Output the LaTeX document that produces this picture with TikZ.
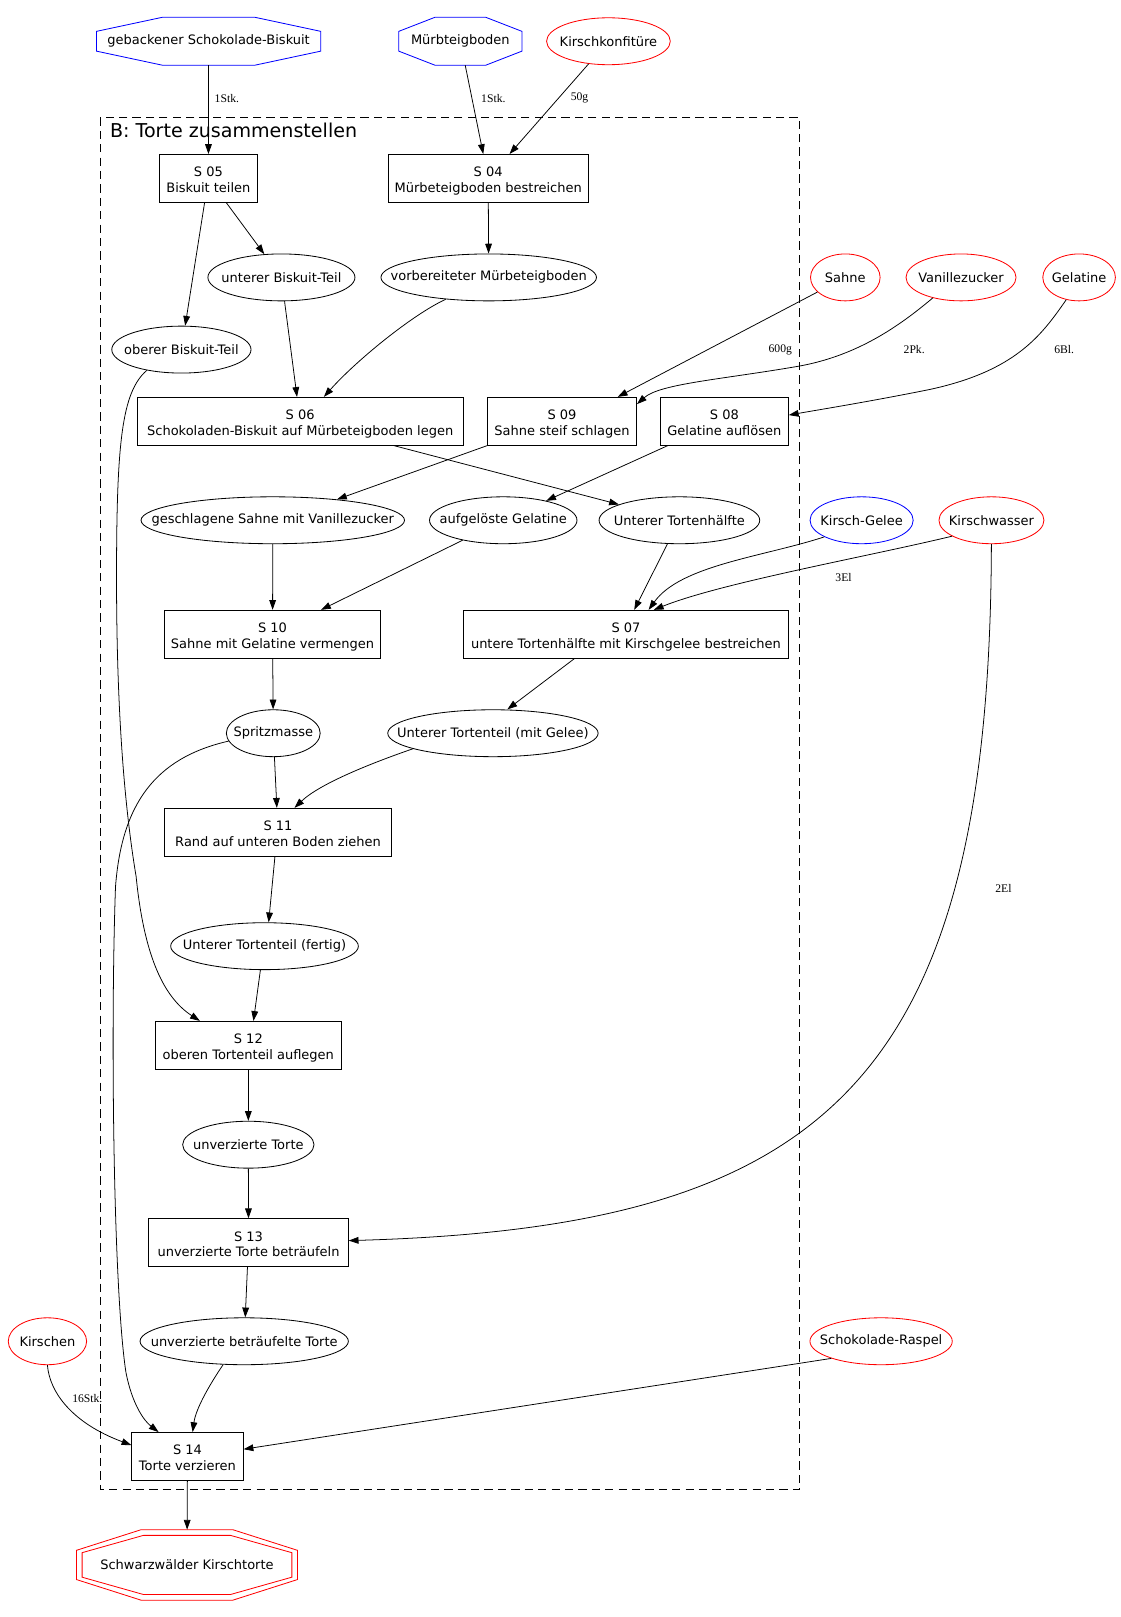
\documentclass[tikz,border=0pt]{standalone}
\usepackage{fontspec}
\setmainfont{DejaVu Sans}
\newfontfamily\qtyfont{Liberation Serif}
\usetikzlibrary{shapes.geometric,arrows.meta,calc}

% text of an oval, so that the oval keeps its given size
\newcommand{\ov}[1]{\makebox[0pt]{#1}}
% octagon round a (not drawn) rectangular node, optional inset
\newcommand{\octo}[3][0pt]{%
  \coordinate (oa) at ([shift={(#1,-#1)}]#2.north west);
  \coordinate (ob) at ([shift={(-#1,#1)}]#2.south east);
  \draw[#3, line width=0.8pt] ($(oa)!0.293!(oa-|ob)$) -- ($(oa)!0.707!(oa-|ob)$)
    -- ($(oa-|ob)!0.293!(ob)$) -- ($(oa-|ob)!0.707!(ob)$)
    -- ($(ob)!0.293!(ob-|oa)$) -- ($(ob)!0.707!(ob-|oa)$)
    -- ($(ob-|oa)!0.293!(oa)$) -- ($(ob-|oa)!0.707!(oa)$) -- cycle;}

\tikzset{
  flow/.style={draw, line width=0.75pt, -{Triangle[length=9.5pt,width=6.5pt]}},
  stepbox/.style={draw, rectangle, align=center, inner sep=0pt, minimum height=46.5pt,
    text height=30pt, text depth=3pt, line width=0.8pt},
  oval/.style={draw, ellipse, inner sep=0pt, minimum height=45.5pt, line width=0.8pt},
  octbox/.style={rectangle, inner sep=0pt, minimum height=46pt},
  qty/.style={font=\qtyfont\fontsize{11.3}{13}\selectfont, inner sep=0pt},
}

\begin{document}
\begin{tikzpicture}[x=1pt, y=-1pt, font=\fontsize{12.6}{15}\selectfont]

\useasboundingbox (0,0) rectangle (1087,1568);

% cluster
\draw[dash pattern=on 8pt off 5pt, line width=0.8pt] (97.6,113.8) rectangle (775.2,1444.6);
\node[anchor=base west, inner sep=0pt, font=\fontsize{18.5}{22}\selectfont] (ctitle) at (106.5,133) {B: Torte zusammenstellen};

% inputs on top
\node[octbox, minimum width=217pt] (geb) at (202.3,40) {gebackener Schokolade-Biskuit};
\node[octbox, minimum width=119pt] (murb) at (446.4,40) {Mürbteigboden};
\node[oval, red, text=black, minimum width=120pt] (konf) at (590,40) {\ov{Kirschkonfitüre}};
\octo{geb}{blue}
\octo{murb}{blue}

\node[stepbox, minimum width=95pt] (s05) at (202.1,173) {S 05\\Biskuit teilen};
\node[stepbox, minimum width=194pt] (s04) at (473.4,173) {S 04\\Mürbeteigboden bestreichen};

\node[oval, minimum width=142.6pt] (ubt) at (272.9,269) {\ov{unterer Biskuit-Teil}};
\node[oval, minimum width=209pt] (vmb) at (473.9,269) {\ov{vorbereiteter Mürbeteigboden}};
\node[oval, red, text=black, minimum width=67.5pt] (sahne) at (819.7,269) {\ov{Sahne}};
\node[oval, red, text=black, minimum width=106.7pt] (vanille) at (931.9,269) {\ov{Vanillezucker}};
\node[oval, red, text=black, minimum width=70.4pt] (gela) at (1046.4,269) {\ov{Gelatine}};
\node[oval, minimum width=135pt] (obt) at (175.9,339) {\ov{oberer Biskuit-Teil}};

\node[stepbox, minimum width=315.7pt] (s06) at (291.1,408.5) {S 06\\Schokoladen-Biskuit auf Mürbeteigboden legen};
\node[stepbox, minimum width=144.6pt] (s09) at (545,408.5) {S 09\\Sahne steif schlagen};
\node[stepbox, minimum width=124.2pt] (s08) at (702.4,408.5) {S 08\\Gelatine auflösen};

\node[oval, minimum width=255.5pt] (gsahne) at (264.5,504.5) {\ov{geschlagene Sahne mit Vanillezucker}};
\node[oval, minimum width=143pt] (agela) at (488,504.5) {\ov{aufgelöste Gelatine}};
\node[oval, minimum width=155.8pt] (uth) at (658.8,504.5) {\ov{Unterer Tortenhälfte}};
\node[oval, blue, text=black, minimum width=100pt] (kgelee) at (835.5,504.5) {\ov{Kirsch-Gelee}};
\node[oval, red, text=black, minimum width=101.8pt] (kwasser) at (961.4,504.5) {\ov{Kirschwasser}};

\node[stepbox, minimum width=209.2pt] (s10) at (264.3,615) {S 10\\Sahne mit Gelatine vermengen};
\node[stepbox, minimum width=315pt] (s07) at (607,615) {S 07\\untere Tortenhälfte mit Kirschgelee bestreichen};

\node[oval, minimum width=91pt] (spritz) at (265,711) {\ov{Spritzmasse}};
\node[oval, minimum width=204pt] (utmg) at (478,711) {\ov{Unterer Tortenteil (mit Gelee)}};

\node[stepbox, minimum width=220.6pt] (s11) at (269.6,807) {S 11\\Rand auf unteren Boden ziehen};
\node[oval, minimum width=182pt] (utf) at (256.5,917.5) {\ov{Unterer Tortenteil (fertig)}};
\node[stepbox, minimum width=181pt] (s12) at (240.8,1013.6) {S 12\\oberen Tortenteil auflegen};
\node[oval, minimum width=127.4pt] (uvt) at (240.8,1110) {\ov{unverzierte Torte}};
\node[stepbox, minimum width=193.5pt] (s13) at (241,1205) {S 13\\unverzierte Torte beträufeln};
\node[oval, minimum width=202pt] (uvbt) at (236.8,1300.6) {\ov{unverzierte beträufelte Torte}};
\node[oval, red, text=black, minimum width=76pt] (kirschen) at (46,1300.6) {\ov{Kirschen}};
\node[oval, red, text=black, minimum width=138pt] (sraspel) at (854.4,1300.6) {\ov{Schokolade-Raspel}};
\node[stepbox, minimum width=108pt] (s14) at (181.8,1412.3) {S 14\\Torte verzieren};

% result
\node[octbox, minimum width=214pt, minimum height=68pt] (swk) at (181.3,1517.5) {Schwarzwälder Kirschtorte};
\octo{swk}{red}
\octo[5.5pt]{swk}{red}

% quantities
\node[qty] (qgeb) at (220,95.3) {1Stk.};
\node[qty] (qmurb) at (478.4,95.3) {1Stk.};
\node[qty] (qkonf) at (562,95.3) {50g};
\node[qty] (qsahne) at (756.6,339.4) {600g};
\node[qty] (qvan) at (886.5,339.4) {2Pk.};
\node[qty] (qgela) at (1032,339.4) {6Bl.};
\node[qty] (qkw1) at (818,560) {3El};
\node[qty] (qkw2) at (973,862) {2El};
\node[qty] (qkir) at (84.7,1356) {16Stk.};

% connectors
\draw[flow] (geb) -- (s05);
\draw[flow] (murb) -- (s04);
\draw[flow] (konf) -- (s04);
\draw[flow] (s05) -- (obt);
\draw[flow] (s05) -- (ubt);
\draw[flow] (s04) -- (vmb);
\draw[flow] (ubt) -- (s06);
\draw[flow] (vmb.207) .. controls (400,305) and (345,350) .. ([xshift=23pt]s06.north);
\draw[flow] (obt.211) .. controls (118,380) and (113,430) .. (113,560)
  .. controls (113,700) and (122,790) .. (132,850)
  .. controls (140,930) and (160,968) .. ([xshift=-47pt]s12.north);
\draw[flow] (sahne) -- ([xshift=54pt]s09.north);
\draw[flow] (vanille.216) .. controls (870,318) and (830,345) .. (775,355)
  .. controls (700,368) and (640,372) .. ([yshift=-7pt]s09.north east);
\draw[flow] (gela.240) .. controls (1010,325) and (985,360) .. (900,378)
  .. controls (840,390) and (790,398) .. ([yshift=6pt]s08.east);
\draw[flow] ([xshift=91pt]s06.south) -- (uth);
\draw[flow] (s09.south west) -- (gsahne.18);
\draw[flow] ([xshift=-55pt]s08.south) -- (agela);
\draw[flow] (gsahne) -- (s10);
\draw[flow] (agela) -- ([xshift=47pt]s10.north);
\draw[flow] (uth) -- ([xshift=8pt]s07.north);
\draw[flow] (kgelee.204) .. controls (740,540) and (660,548) .. ([xshift=22pt]s07.north);
\draw[flow] (kwasser.202) .. controls (840,540) and (700,565) .. ([xshift=27pt]s07.north);
\draw[flow] (kwasser) .. controls (960,1050) and (800,1190) .. ([yshift=2pt]s13.east);
\draw[flow] (s10) -- (spritz);
\draw[flow] ([xshift=-50pt]s07.south) -- ([xshift=14pt]utmg.north);
\draw[flow] (spritz) -- (s11);
\draw[flow] (utmg.191) .. controls (360,740) and (310,760) .. ([xshift=16pt]s11.north);
\draw[flow] ([xshift=-3pt]s11.south) -- ([xshift=4pt]utf.north);
\draw[flow] ([xshift=-4pt]utf.south) -- ([xshift=5pt]s12.north);
\draw[flow] (s12) -- (uvt);
\draw[flow] (uvt) -- (s13);
\draw[flow] (s13) -- (uvbt);
\draw[flow] (spritz.190) .. controls (150,735) and (118,780) .. (112,860)
  .. controls (107,1000) and (110,1250) .. (122,1330)
  .. controls (128,1362) and (140,1378) .. ([xshift=-28pt]s14.north);
\draw[flow] (uvbt.228) .. controls (205,1340) and (190,1365) .. ([xshift=5pt]s14.north);
\draw[flow] (kirschen.south) .. controls (48,1350) and (70,1380) .. ([yshift=11pt]s14.west);
\draw[flow] (sraspel.199) -- ([yshift=7pt]s14.east);
\draw[flow] (s14) -- (swk);

\end{tikzpicture}
\end{document}
